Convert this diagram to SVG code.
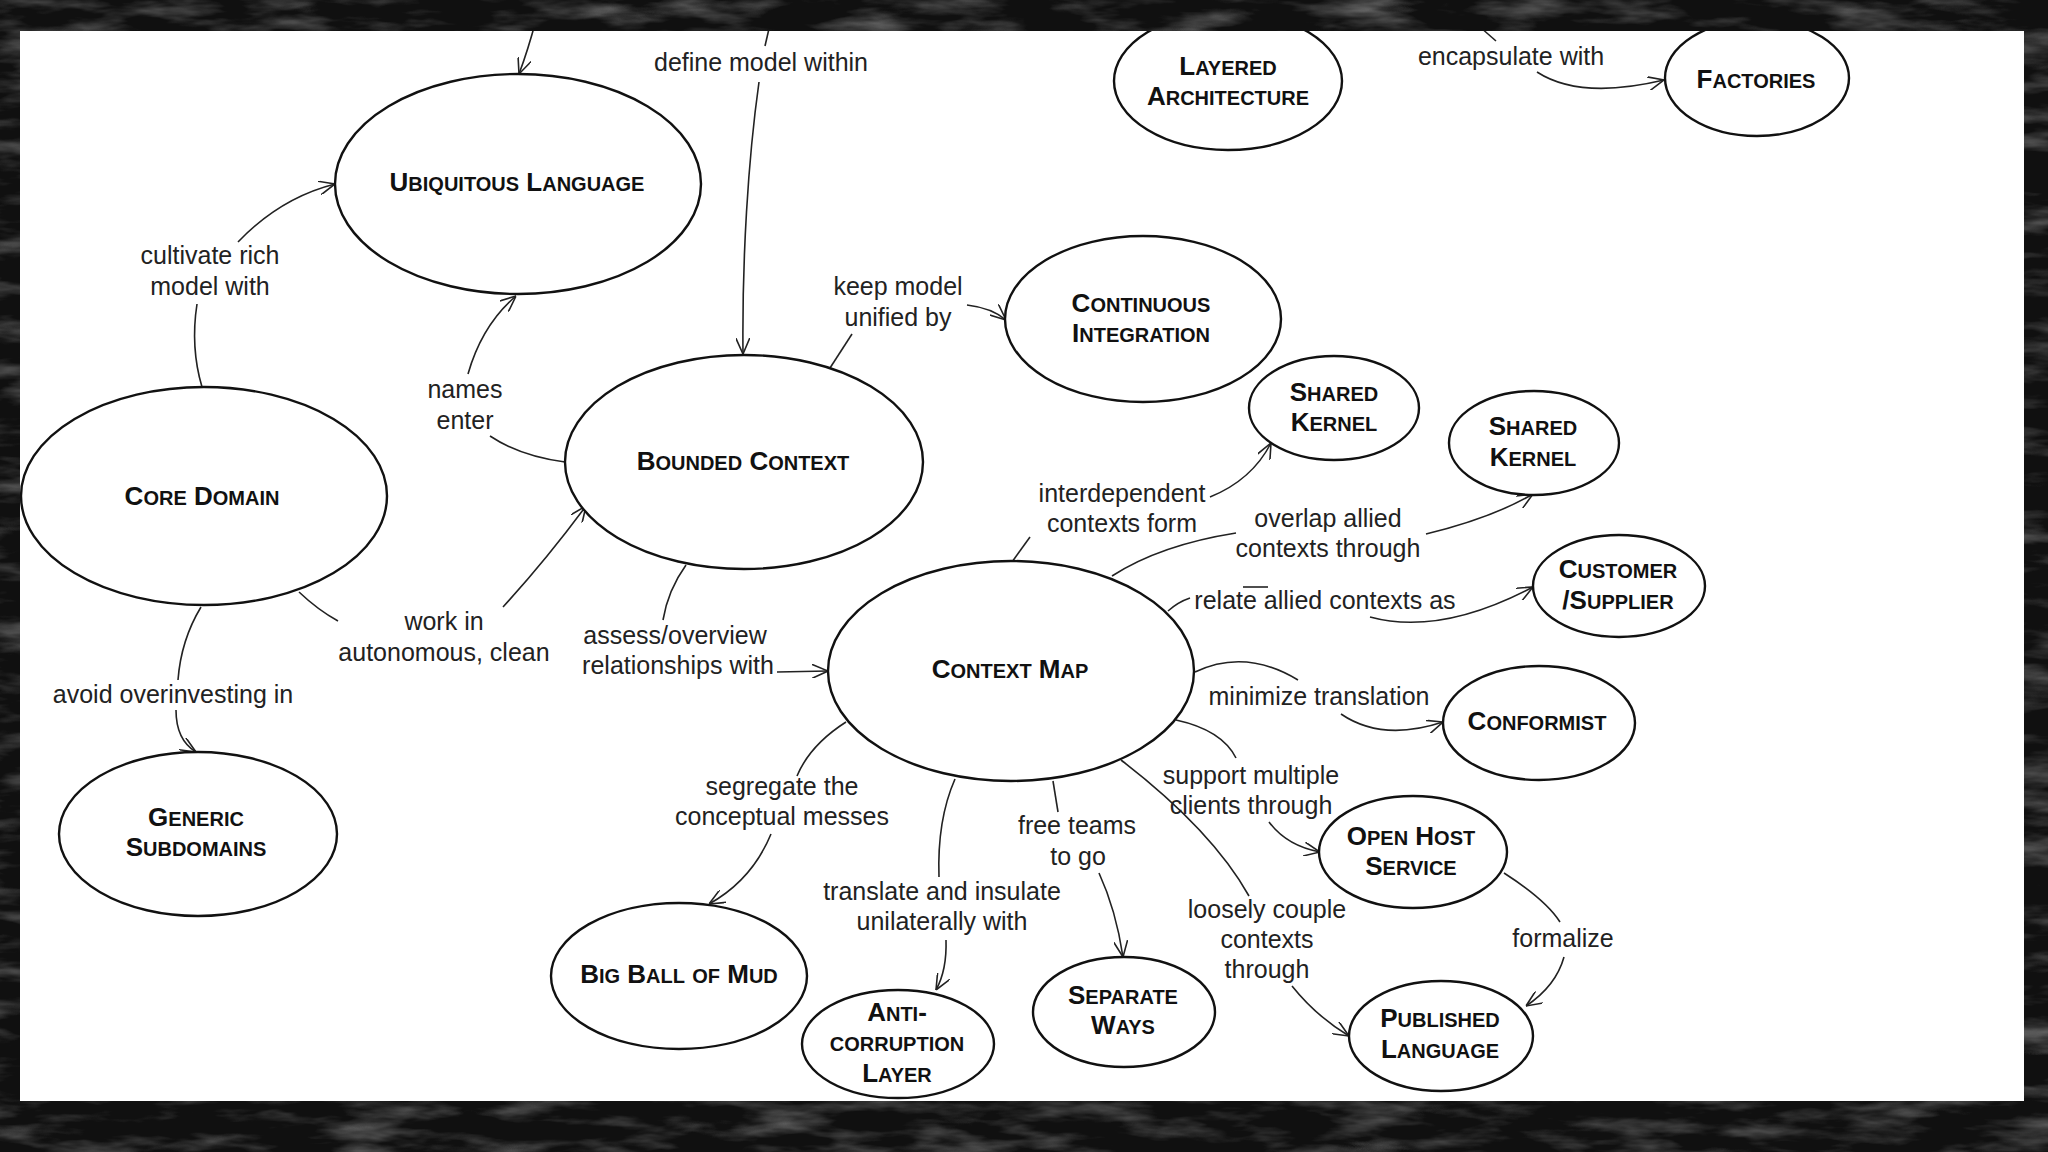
<svg xmlns="http://www.w3.org/2000/svg" width="2048" height="1152" viewBox="0 0 2048 1152">
<defs>
<style>
.node ellipse{fill:#fff;stroke:#111;stroke-width:2.4}
.nl{font-family:"Liberation Sans",Arial,sans-serif;font-weight:bold;font-size:26px;fill:#111;text-anchor:middle}
.sc{font-size:28.6px;font-variant:small-caps}
.el{font-family:"Liberation Sans",Arial,sans-serif;font-size:25px;fill:#222;text-anchor:middle}
.edges path{fill:none;stroke:#222;stroke-width:1.6}
.arr{marker-end:url(#ah)}
</style>
<marker id="ah" viewBox="0 0 16 14" refX="16" refY="7" markerWidth="16" markerHeight="14" markerUnits="userSpaceOnUse" orient="auto">
<path d="M0,0 L16,7 L0,14" fill="none" stroke="#222" stroke-width="1.6"/>
</marker>
<clipPath id="fc"><path clip-rule="evenodd" d="M0,0H2048V1152H0Z M20,31H2024V1101H20Z"/></clipPath>
<filter id="chalk" x="0" y="0" width="100%" height="100%">
<feTurbulence type="fractalNoise" baseFrequency="0.012 0.05" numOctaves="4" seed="7"/>
<feColorMatrix type="matrix" values="0 0 0 0 0.32  0 0 0 0 0.32  0 0 0 0 0.32  1.3 0 0 0 -0.6"/>
</filter>
</defs>
<rect x="0" y="0" width="2048" height="1152" fill="#fff"/>

<g class="edges">
<path class="arr" d="M536,20 Q528,50 519,74"/>
<path d="M771,20 L765,46"/>
<path class="arr" d="M759,82 C748,160 742,260 743,354"/>
<path d="M202,387 C194,360 193,330 197,304"/>
<path class="arr" d="M238,242 Q280,198 335,184"/>
<path d="M565,462 Q520,456 490,436"/>
<path class="arr" d="M468,374 Q482,325 516,296"/>
<path d="M830,368 L852,334"/>
<path class="arr" d="M967,305 Q992,308 1006,320"/>
<path d="M1472,20 L1496,41"/>
<path class="arr" d="M1537,72 Q1580,100 1664,80"/>
<path d="M1012,562 L1030,537"/>
<path class="arr" d="M1210,497 Q1252,480 1271,443"/>
<path d="M1112,576 Q1160,545 1236,533"/>
<path class="arr" d="M1426,534 Q1492,518 1533,494"/>
<path d="M1168,611 Q1178,602 1190,598"/>
<path d="M1243,587 L1268,587"/>
<path class="arr" d="M1370,617 Q1440,636 1533,587"/>
<path d="M1195,672 Q1245,648 1298,680"/>
<path class="arr" d="M1341,714 Q1382,742 1443,722"/>
<path d="M1176,720 Q1222,730 1236,758"/>
<path class="arr" d="M1269,822 Q1287,846 1320,852"/>
<path d="M1121,760 Q1212,830 1249,896"/>
<path class="arr" d="M1292,986 Q1316,1016 1349,1036"/>
<path d="M1504,873 Q1546,900 1560,922"/>
<path class="arr" d="M1564,957 Q1556,986 1526,1006"/>
<path d="M1053,781 L1058,812"/>
<path class="arr" d="M1099,873 Q1116,910 1123,957"/>
<path d="M955,779 Q937,820 939,877"/>
<path class="arr" d="M946,940 Q947,970 936,990"/>
<path d="M846,722 Q810,745 797,776"/>
<path class="arr" d="M771,834 Q752,880 709,904"/>
<path d="M686,565 Q668,590 663,620"/>
<path class="arr" d="M777,672 L828,671"/>
<path d="M299,592 Q318,610 338,621"/>
<path class="arr" d="M503,607 Q546,560 586,506"/>
<path d="M201,607 Q181,640 178,680"/>
<path class="arr" d="M176,710 Q176,740 196,752"/>
</g>

<g class="labels">
<text class="el" x="761" y="71">define model within</text>
<text class="el" x="1511" y="65">encapsulate with</text>
<text class="el" x="210" y="264">cultivate rich</text>
<text class="el" x="210" y="295">model with</text>
<text class="el" x="465" y="398">names</text>
<text class="el" x="465" y="429">enter</text>
<text class="el" x="898" y="295">keep model</text>
<text class="el" x="898" y="326">unified by</text>
<text class="el" x="1122" y="502">interdependent</text>
<text class="el" x="1122" y="532">contexts form</text>
<text class="el" x="1328" y="527">overlap allied</text>
<text class="el" x="1328" y="557">contexts through</text>
<text class="el" x="1325" y="609">relate allied contexts as</text>
<text class="el" x="1319" y="705">minimize translation</text>
<text class="el" x="1251" y="784">support multiple</text>
<text class="el" x="1251" y="814">clients through</text>
<text class="el" x="1077" y="834">free teams</text>
<text class="el" x="1078" y="865">to go</text>
<text class="el" x="1267" y="918">loosely couple</text>
<text class="el" x="1267" y="948">contexts</text>
<text class="el" x="1267" y="978">through</text>
<text class="el" x="1563" y="947">formalize</text>
<text class="el" x="942" y="900">translate and insulate</text>
<text class="el" x="942" y="930">unilaterally with</text>
<text class="el" x="782" y="795">segregate the</text>
<text class="el" x="782" y="825">conceptual messes</text>
<text class="el" x="675" y="644">assess/overview</text>
<text class="el" x="678" y="674">relationships with</text>
<text class="el" x="444" y="630">work in</text>
<text class="el" x="444" y="661">autonomous, clean</text>
<text class="el" x="173" y="703">avoid overinvesting in</text>
</g>

<g id="ubiquitous-language" class="node"><ellipse cx="518" cy="184" rx="183" ry="110"/><text class="nl" x="517" y="191">U<tspan class="sc">biquitous</tspan> L<tspan class="sc">anguage</tspan></text></g>
<g id="core-domain" class="node"><ellipse cx="204" cy="496" rx="183" ry="109"/><text class="nl" x="202" y="505">C<tspan class="sc">ore</tspan> D<tspan class="sc">omain</tspan></text></g>
<g id="bounded-context" class="node"><ellipse cx="744" cy="462" rx="179" ry="107"/><text class="nl" x="743" y="470">B<tspan class="sc">ounded</tspan> C<tspan class="sc">ontext</tspan></text></g>
<g id="context-map" class="node"><ellipse cx="1011" cy="671" rx="183" ry="110"/><text class="nl" x="1010" y="678">C<tspan class="sc">ontext</tspan> M<tspan class="sc">ap</tspan></text></g>
<g id="continuous-integration" class="node"><ellipse cx="1143" cy="319" rx="138" ry="83"/><text class="nl" x="1141" y="312">C<tspan class="sc">ontinuous</tspan></text><text class="nl" x="1141" y="342">I<tspan class="sc">ntegration</tspan></text></g>
<g id="layered-architecture" class="node"><ellipse cx="1228" cy="81" rx="114" ry="69"/><text class="nl" x="1228" y="75">L<tspan class="sc">ayered</tspan></text><text class="nl" x="1228" y="105">A<tspan class="sc">rchitecture</tspan></text></g>
<g id="factories" class="node"><ellipse cx="1757" cy="78" rx="92" ry="58"/><text class="nl" x="1756" y="88">F<tspan class="sc">actories</tspan></text></g>
<g id="shared-kernel-1" class="node"><ellipse cx="1334" cy="408" rx="85" ry="52"/><text class="nl" x="1334" y="401">S<tspan class="sc">hared</tspan></text><text class="nl" x="1334" y="431">K<tspan class="sc">ernel</tspan></text></g>
<g id="shared-kernel-2" class="node"><ellipse cx="1534" cy="443" rx="85" ry="52"/><text class="nl" x="1533" y="435">S<tspan class="sc">hared</tspan></text><text class="nl" x="1533" y="466">K<tspan class="sc">ernel</tspan></text></g>
<g id="customer-supplier" class="node"><ellipse cx="1619" cy="586" rx="86" ry="51"/><text class="nl" x="1618" y="578">C<tspan class="sc">ustomer</tspan></text><text class="nl" x="1618" y="609">/S<tspan class="sc">upplier</tspan></text></g>
<g id="conformist" class="node"><ellipse cx="1539" cy="723" rx="96" ry="57"/><text class="nl" x="1537" y="730">C<tspan class="sc">onformist</tspan></text></g>
<g id="open-host-service" class="node"><ellipse cx="1413" cy="852" rx="94" ry="56"/><text class="nl" x="1411" y="845">O<tspan class="sc">pen</tspan> H<tspan class="sc">ost</tspan></text><text class="nl" x="1411" y="875">S<tspan class="sc">ervice</tspan></text></g>
<g id="published-language" class="node"><ellipse cx="1441" cy="1036" rx="92" ry="55"/><text class="nl" x="1440" y="1027">P<tspan class="sc">ublished</tspan></text><text class="nl" x="1440" y="1058">L<tspan class="sc">anguage</tspan></text></g>
<g id="separate-ways" class="node"><ellipse cx="1124" cy="1012" rx="91" ry="55"/><text class="nl" x="1123" y="1004">S<tspan class="sc">eparate</tspan></text><text class="nl" x="1123" y="1034">W<tspan class="sc">ays</tspan></text></g>
<g id="anti-corruption-layer" class="node"><ellipse cx="898" cy="1044" rx="96" ry="54"/><text class="nl" x="897" y="1021">A<tspan class="sc">nti</tspan>-</text><text class="nl" x="897" y="1051"><tspan class="sc">corruption</tspan></text><text class="nl" x="897" y="1082">L<tspan class="sc">ayer</tspan></text></g>
<g id="big-ball-of-mud" class="node"><ellipse cx="679" cy="976" rx="128" ry="73"/><text class="nl" x="679" y="983">B<tspan class="sc">ig</tspan> B<tspan class="sc">all</tspan> <tspan class="sc">of</tspan> M<tspan class="sc">ud</tspan></text></g>
<g id="generic-subdomains" class="node"><ellipse cx="198" cy="834" rx="139" ry="82"/><text class="nl" x="196" y="826">G<tspan class="sc">eneric</tspan></text><text class="nl" x="196" y="856">S<tspan class="sc">ubdomains</tspan></text></g>

<g id="frame">
<path fill-rule="evenodd" d="M0,0H2048V1152H0Z M20,31H2024V1101H20Z" fill="#101010"/>
<g clip-path="url(#fc)"><rect x="0" y="0" width="2048" height="1152" filter="url(#chalk)"/></g>
</g>
</svg>
